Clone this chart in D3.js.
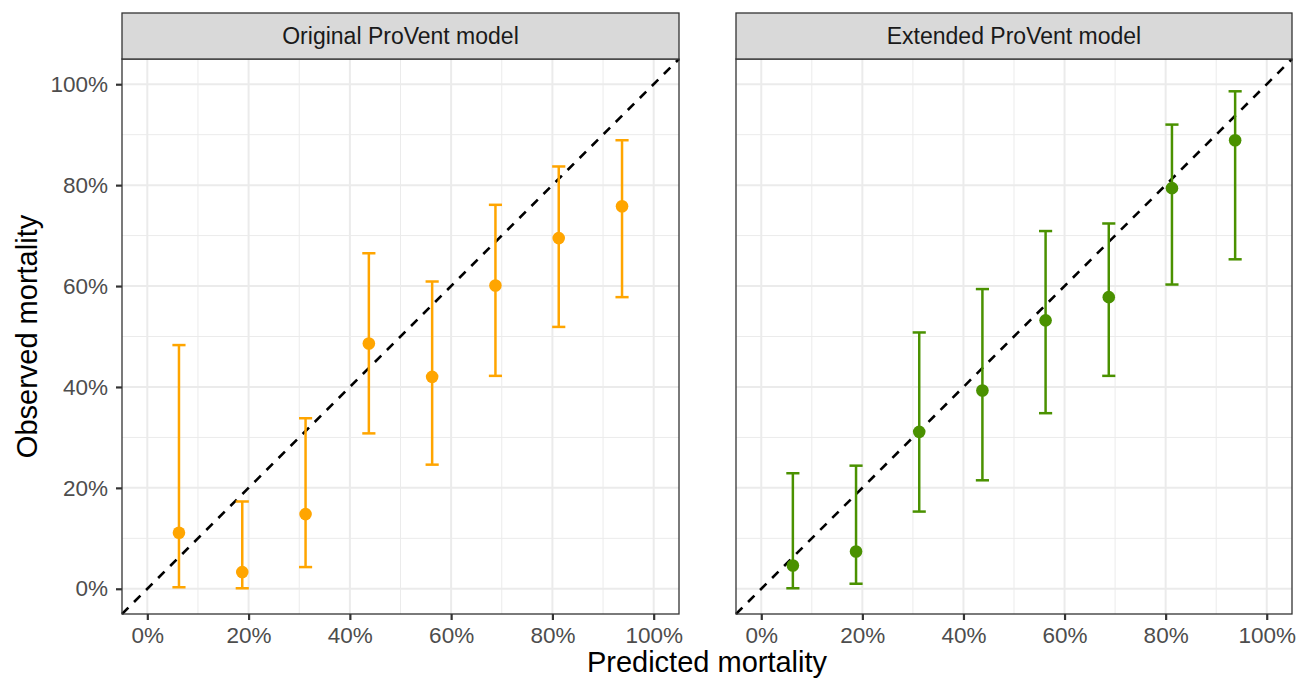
<!DOCTYPE html>
<html>
<head>
<meta charset="utf-8">
<script src="https://cdn.jsdelivr.net/npm/d3@7"></script>
<style>
  body { margin: 0; background: #fff; }
  text { font-family: "Liberation Sans", Arial, sans-serif; }
</style>
</head>
<body>
<div id="chart"></div>
<script>
// predicted risk groups (bin midpoints)
const predicted = [0.0625, 0.1875, 0.3125, 0.4375, 0.5625, 0.6875, 0.8125, 0.9375];

// Original ProVent model
const origObs   = [0.111, 0.033, 0.148, 0.486, 0.420, 0.601, 0.695, 0.758];
const origLower = [0.003, 0.001, 0.043, 0.308, 0.246, 0.422, 0.519, 0.578];
const origUpper = [0.483, 0.173, 0.338, 0.665, 0.609, 0.761, 0.837, 0.889];

// Extended ProVent model
const extObs   = [0.046, 0.074, 0.311, 0.393, 0.532, 0.578, 0.794, 0.889];
const extLower = [0.001, 0.010, 0.153, 0.215, 0.348, 0.422, 0.603, 0.653];
const extUpper = [0.229, 0.244, 0.508, 0.594, 0.709, 0.724, 0.920, 0.986];

const panelNames = ["Original ProVent model", "Extended ProVent model"];
const panelColors = ["#FFA500", "#4A9100"];
const ticks = [0, 0.2, 0.4, 0.6, 0.8, 1.0];
const minorTicks = [0.1, 0.3, 0.5, 0.7, 0.9];

const width = 1299, height = 680;
const svg = d3.select("#chart").append("svg")
  .attr("width", width).attr("height", height);

const panelTop = 59, panelBottom = 614, stripTop = 13;
const panelLefts = [122, 736], panelRights = [679, 1292];

const y = d3.scaleLinear().domain([-0.05, 1.05]).range([panelBottom, panelTop]);
const fmt = d => Math.round(d * 100) + "%";

const panels = [
  { obs: origObs, lo: origLower, hi: origUpper },
  { obs: extObs, lo: extLower, hi: extUpper }
];

panels.forEach((p, i) => {
  const x = d3.scaleLinear().domain([-0.05, 1.05]).range([panelLefts[i], panelRights[i]]);
  const g = svg.append("g");
  const col = panelColors[i];
  const data = predicted.map((d, k) => ({ x: d, y: p.obs[k], lo: p.lo[k], hi: p.hi[k] }));

  // grid
  g.selectAll(".minx").data(minorTicks).join("line")
    .attr("x1", d => x(d)).attr("x2", d => x(d))
    .attr("y1", panelTop).attr("y2", panelBottom)
    .attr("stroke", "#EBEBEB").attr("stroke-width", 1);
  g.selectAll(".miny").data(minorTicks).join("line")
    .attr("y1", d => y(d)).attr("y2", d => y(d))
    .attr("x1", panelLefts[i]).attr("x2", panelRights[i])
    .attr("stroke", "#EBEBEB").attr("stroke-width", 1);
  g.selectAll(".majx").data(ticks).join("line")
    .attr("x1", d => x(d)).attr("x2", d => x(d))
    .attr("y1", panelTop).attr("y2", panelBottom)
    .attr("stroke", "#EBEBEB").attr("stroke-width", 2);
  g.selectAll(".majy").data(ticks).join("line")
    .attr("y1", d => y(d)).attr("y2", d => y(d))
    .attr("x1", panelLefts[i]).attr("x2", panelRights[i])
    .attr("stroke", "#EBEBEB").attr("stroke-width", 2);

  // reference line
  g.append("line")
    .attr("x1", x(-0.05)).attr("y1", y(-0.05))
    .attr("x2", x(1.05)).attr("y2", y(1.05))
    .attr("stroke", "#000").attr("stroke-width", 2.6)
    .attr("stroke-dasharray", "9,8");

  // error bars
  const cap = 0.013;
  g.selectAll(".eb").data(data).join("line")
    .attr("x1", d => x(d.x)).attr("x2", d => x(d.x))
    .attr("y1", d => y(d.lo)).attr("y2", d => y(d.hi))
    .attr("stroke", col).attr("stroke-width", 2.5);
  g.selectAll(".capHi").data(data).join("line")
    .attr("x1", d => x(d.x - cap)).attr("x2", d => x(d.x + cap))
    .attr("y1", d => y(d.hi)).attr("y2", d => y(d.hi))
    .attr("stroke", col).attr("stroke-width", 2.5);
  g.selectAll(".capLo").data(data).join("line")
    .attr("x1", d => x(d.x - cap)).attr("x2", d => x(d.x + cap))
    .attr("y1", d => y(d.lo)).attr("y2", d => y(d.lo))
    .attr("stroke", col).attr("stroke-width", 2.5);
  g.selectAll(".pt").data(data).join("circle")
    .attr("cx", d => x(d.x)).attr("cy", d => y(d.y))
    .attr("r", 6.3).attr("fill", col);

  // border
  g.append("rect")
    .attr("x", panelLefts[i]).attr("y", panelTop)
    .attr("width", panelRights[i] - panelLefts[i]).attr("height", panelBottom - panelTop)
    .attr("fill", "none").attr("stroke", "#333").attr("stroke-width", 1.3);

  // strip
  g.append("rect")
    .attr("x", panelLefts[i]).attr("y", stripTop)
    .attr("width", panelRights[i] - panelLefts[i]).attr("height", panelTop - stripTop)
    .attr("fill", "#D9D9D9").attr("stroke", "#333").attr("stroke-width", 1.3);
  g.append("text")
    .attr("x", (panelLefts[i] + panelRights[i]) / 2).attr("y", (stripTop + panelTop) / 2 + 8)
    .attr("text-anchor", "middle").attr("font-size", 23).attr("fill", "#1A1A1A")
    .text(panelNames[i]);

  // x axis
  const xa = g.append("g").attr("transform", `translate(0,${panelBottom})`)
    .call(d3.axisBottom(x).tickValues(ticks).tickFormat(fmt).tickSize(6).tickPadding(7));
  xa.select(".domain").remove();
  xa.selectAll("line").attr("stroke", "#333").attr("stroke-width", 2.2);
  xa.selectAll("text").attr("font-size", 22.5).attr("fill", "#4D4D4D")
    .attr("font-family", "Liberation Sans, Arial, sans-serif");

  if (i === 0) {
    const ya = g.append("g").attr("transform", `translate(${panelLefts[i]},0)`)
      .call(d3.axisLeft(y).tickValues(ticks).tickFormat(fmt).tickSize(6).tickPadding(8));
    ya.select(".domain").remove();
    ya.selectAll("line").attr("stroke", "#333").attr("stroke-width", 2.2);
    ya.selectAll("text").attr("font-size", 22.5).attr("fill", "#4D4D4D")
      .attr("font-family", "Liberation Sans, Arial, sans-serif");
  }
});

// axis titles
svg.append("text")
  .attr("x", (panelLefts[0] + panelRights[1]) / 2).attr("y", 672)
  .attr("text-anchor", "middle").attr("font-size", 29).attr("fill", "#000")
  .text("Predicted mortality");
svg.append("text")
  .attr("transform", `translate(37,${(panelTop + panelBottom) / 2}) rotate(-90)`)
  .attr("text-anchor", "middle").attr("font-size", 29).attr("fill", "#000")
  .text("Observed mortality");
</script>
</body>
</html>
